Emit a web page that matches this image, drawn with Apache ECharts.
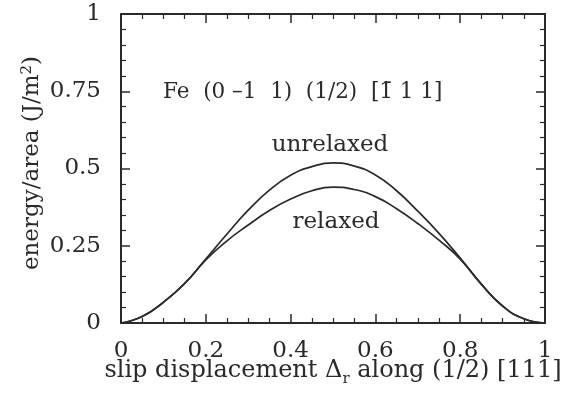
<!DOCTYPE html>
<html>
<head>
<meta charset="utf-8">
<script src="https://cdn.jsdelivr.net/npm/echarts@6/dist/echarts.min.js"></script>
<style>
html,body{margin:0;padding:0;background:#fff;}
#chart{width:566px;height:404px;}
</style>
</head>
<body>
<div id="chart"></div>
<script>
// Slip displacement along (1/2)[111], fraction of the Burgers vector
const displacement = [0, 0.05, 0.1, 0.15, 0.2, 0.25, 0.3, 0.35, 0.4, 0.45, 0.5,
                      0.55, 0.6, 0.65, 0.7, 0.75, 0.8, 0.85, 0.9, 0.95, 1];
// Generalized stacking fault energy, J/m^2
const unrelaxed = [0, 0.021, 0.067, 0.128, 0.207, 0.288, 0.365, 0.43, 0.478, 0.506, 0.518,
                   0.508, 0.479, 0.428, 0.362, 0.29, 0.21, 0.126, 0.055, 0.014, 0];
const relaxed = [0, 0.021, 0.067, 0.127, 0.204, 0.266, 0.317, 0.364, 0.401, 0.428, 0.44,
                 0.432, 0.409, 0.37, 0.322, 0.268, 0.207, 0.125, 0.055, 0.014, 0];
const xTicks = [0, 0.2, 0.4, 0.6, 0.8, 1];
const yTicks = [0, 0.25, 0.5, 0.75, 1];

const ink = '#2a2a2a';
const serif = '"DejaVu Serif", "Liberation Serif", serif';

function pairs(xs, ys) { return xs.map((x, i) => [x, ys[i]]); }

function fmtX(v) {
  const hit = xTicks.find(t => Math.abs(t - v) < 1e-9);
  return hit === undefined ? '' : String(hit);
}
function fmtY(v) {
  const hit = yTicks.find(t => Math.abs(t - v) < 1e-9);
  return hit === undefined ? '' : String(hit);
}

const axisLine = { show: true, onZero: false, lineStyle: { color: ink, width: 2 } };
const major = { show: true, inside: true, length: 9, lineStyle: { color: ink, width: 1.5 } };
const minorY = { show: true, splitNumber: 5, length: 5, lineStyle: { color: ink, width: 1.2 } };
const minorX = { show: true, splitNumber: 4, length: 5, lineStyle: { color: ink, width: 1.2 } };

const chart = echarts.init(document.getElementById('chart'), null, { renderer: 'canvas' });
chart.setOption({
  backgroundColor: '#fff',
  animation: false,
  grid: { left: 121, right: 21, top: 14, bottom: 81 },
  xAxis: [
    { type: 'value', min: 0, max: 1, interval: 0.2, position: 'bottom',
      axisLine, axisTick: major, minorTick: minorX, splitLine: { show: false },
      axisLabel: { formatter: fmtX, margin: 17, color: ink, fontFamily: serif, fontSize: 23 } },
    { type: 'value', min: 0, max: 1, interval: 0.2, position: 'top',
      axisLine, axisTick: major, minorTick: minorX, splitLine: { show: false },
      axisLabel: { show: false } }
  ],
  yAxis: [
    { type: 'value', min: 0, max: 1, interval: 0.25, position: 'left',
      axisLine, axisTick: major, minorTick: minorY, splitLine: { show: false },
      axisLabel: { formatter: fmtY, margin: 20, color: ink, fontFamily: serif, fontSize: 23 } },
    { type: 'value', min: 0, max: 1, interval: 0.25, position: 'right',
      axisLine, axisTick: major, minorTick: minorY, splitLine: { show: false },
      axisLabel: { show: false } }
  ],
  series: [
    { name: 'unrelaxed', type: 'line', smooth: 0.5, symbol: 'none',
      data: pairs(displacement, unrelaxed),
      lineStyle: { color: ink, width: 1.7 } },
    { name: 'relaxed', type: 'line', smooth: 0.5, symbol: 'none',
      data: pairs(displacement, relaxed),
      lineStyle: { color: ink, width: 1.7 } }
  ],
  graphic: [
    { type: 'text', x: 163, y: 92,
      style: { text: 'Fe  (0 \u20131  1)  (1/2)  [1\u0304 1 1]', fontFamily: serif, fontSize: 21.5,
               fill: ink, verticalAlign: 'middle' } },
    { type: 'text', x: 330, y: 145,
      style: { text: 'unrelaxed', fontFamily: serif, fontSize: 23, fill: ink, align: 'center', verticalAlign: 'middle' } },
    { type: 'text', x: 336, y: 222,
      style: { text: 'relaxed', fontFamily: serif, fontSize: 23, fill: ink, align: 'center', verticalAlign: 'middle' } },
    { type: 'text', x: 333, y: 383,
      style: {
        text: '{t|slip displacement \u0394}{s|r}{t| along (1/2) [111]}',
        align: 'center', verticalAlign: 'bottom',
        rich: {
          t: { fontFamily: serif, fontSize: 24, fill: ink, verticalAlign: 'bottom' },
          s: { fontFamily: serif, fontSize: 15, fill: ink, verticalAlign: 'bottom', padding: [0, 0, -4, 0] }
        }
      } },
    { type: 'text', x: 32, y: 163, rotation: Math.PI / 2,
      style: {
        text: '{t|energy/area (J/m}{p|2}{t|)}',
        align: 'center', verticalAlign: 'middle',
        rich: {
          t: { fontFamily: serif, fontSize: 23, fill: ink },
          p: { fontFamily: serif, fontSize: 15, fill: ink, padding: [0, 0, 9, 0] }
        }
      } }
  ]
});
</script>
</body>
</html>
